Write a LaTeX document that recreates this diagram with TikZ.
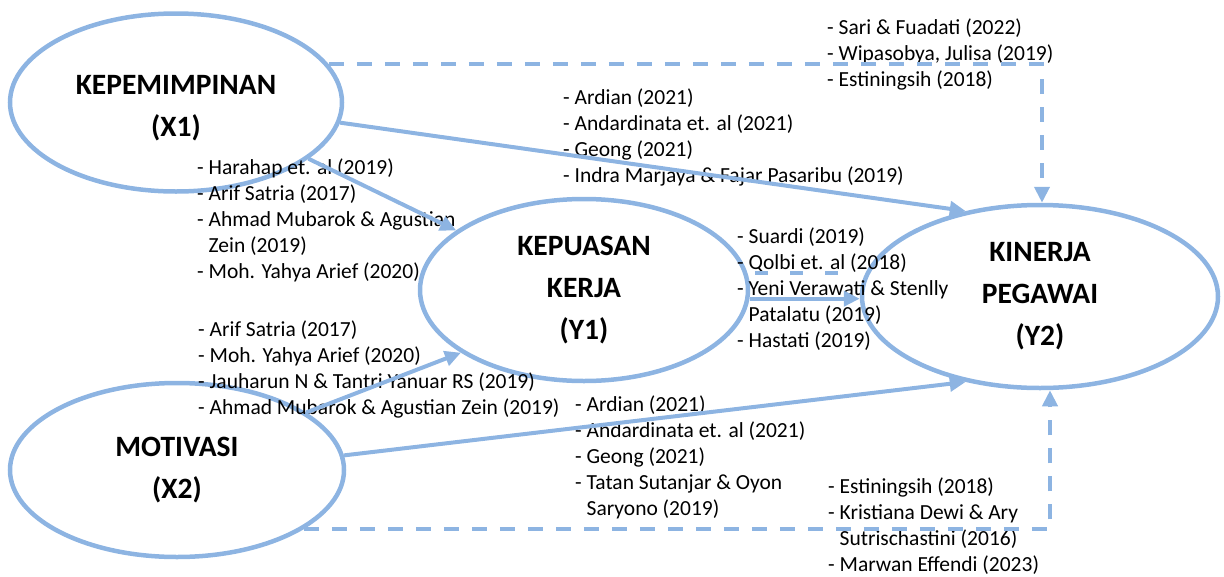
\documentclass[tikz,border=0pt]{standalone}
\usepackage{fontspec}
\setmainfont{Carlito}
\usetikzlibrary{shapes.geometric,arrows.meta}
\definecolor{lblue}{RGB}{141,180,226}
\newcommand{\ind}{\hphantom{-\ }}
\begin{document}
\begin{tikzpicture}[x=1pt,y=-1pt,
  ell/.style={ellipse, draw=lblue, line width=4.5pt, inner sep=0pt, align=center,
    font=\fontsize{29.5}{42}\selectfont\bfseries},
  lbl/.style={inner sep=0pt, align=center, font=\fontsize{29.5}{42}\selectfont\bfseries},
  conn/.style={draw=lblue, line width=4pt, -{Triangle[length=16pt,width=15pt]}},
  dconn/.style={conn, dash pattern=on 15pt off 13pt},
  refs/.style={anchor=north west, inner sep=0pt, align=left,
    font=\fontsize{21.5}{26}\selectfont}
]
\useasboundingbox (0,0) rectangle (1224,576);

% ellipses
\node[ell, minimum width=332pt, minimum height=178pt] (x1) at (176,102.5) {};
\node[lbl] (x1t) at (176,108) {KEPEMIMPINAN\\(X1)};
\node[ell, minimum width=334pt, minimum height=174pt] (x2) at (177,470) {MOTIVASI\\(X2)};
\node[ell, minimum width=328pt, minimum height=182pt] (y1) at (584,290) {KEPUASAN\\KERJA\\(Y1)};
\node[ell, minimum width=356pt, minimum height=183pt] (y2) at (1040,296.5) {KINERJA\\PEGAWAI\\(Y2)};

% reference lists
\node[refs] (la) at (827,16.3) {\strut- Sari \& Fuadati (2022)\\- Wipasobya, Julisa (2019)\\- Estiningsih (2018)};
\node[refs] (lb) at (563,86.3) {\strut- Ardian (2021)\\- Andardinata et. al (2021)\\- Geong (2021)\\- Indra Marjaya \& Fajar Pasaribu (2019)};
\node[refs] (lc) at (197,156.3) {\strut- Harahap et. al (2019)\\- Arif Satria (2017)\\- Ahmad Mubarok \& Agustian\\\ind Zein (2019)\\- Moh. Yahya Arief (2020)};
\node[refs] (ld) at (198,318.3) {\strut- Arif Satria (2017)\\- Moh. Yahya Arief (2020)\\- Jauharun N \& Tantri Yanuar RS (2019)\\- Ahmad Mubarok \& Agustian Zein (2019)};
\node[refs] (le) at (737,225.3) {\strut- Suardi (2019)\\- Qolbi et. al (2018)\\- Yeni Verawati \& Stenlly\\\ind Patalatu (2019)\\- Hastati (2019)};
\node[refs] (lf) at (575,393.3) {\strut- Ardian (2021)\\- Andardinata et. al (2021)\\- Geong (2021)\\- Tatan Sutanjar \& Oyon\\\ind Saryono (2019)};
\node[refs] (lg) at (828,475.3) {\strut- Estiningsih (2018)\\- Kristiana Dewi \& Ary\\\ind Sutrischastini (2016)\\- Marwan Effendi (2023)};

% connectors
\draw[conn] (x1.-7) -- (y2.131);
\draw[conn] (x1.-23) -- (y1.155);
\draw[conn] (x2.24) -- (y1.207);
\draw[conn] (x2.5) -- (y2.229);
\draw[conn] (y1.-3.5) -- (y1.-3.5 -| y2.west);
\draw[dconn] (x1.14) -| ([xshift=2pt]y2.north);
\draw[dconn] (x2.-25) -| ([xshift=10pt]y2.south);
\draw[draw=lblue, line width=4pt, dash pattern=on 13pt off 22pt, dash phase=-8pt] (y1.6) -- (y1.6 -| y2.west);
\end{tikzpicture}
\end{document}
